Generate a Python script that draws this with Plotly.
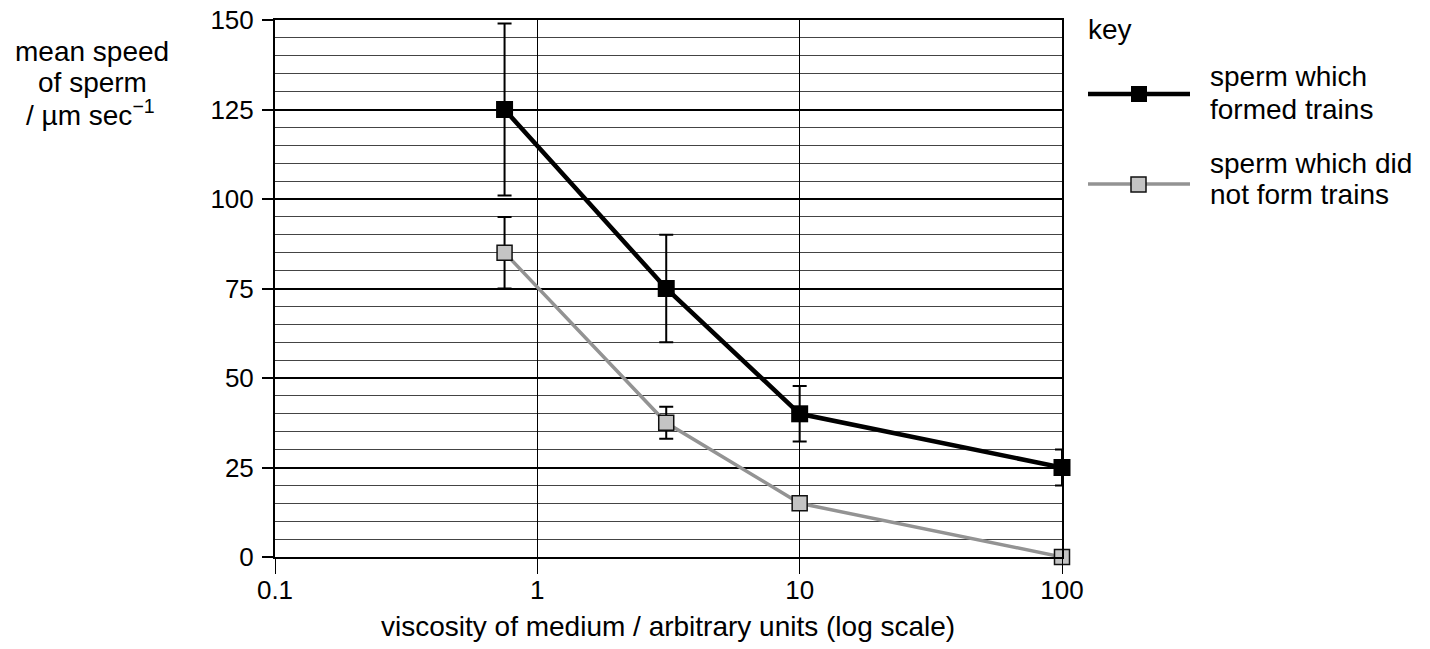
import plotly.graph_objects as go

# ---- data ----
viscosity = [0.75, 3.1, 10, 100]
speed_trains = [125, 75, 40, 25]
err_trains = [24, 15, 7.75, 5]
speed_no_trains = [85, 37.5, 15, 0]
err_no_trains = [10, 4.5, 0, 0]
y_ticks = [0, 25, 50, 75, 100, 125, 150]
x_ticks = [0.1, 1, 10, 100]
x_tick_labels = ["0.1", "1", "10", "100"]

FONT = "Liberation Sans, Arial, Helvetica, sans-serif"
W, H = 1430, 649
# target plot-area edges in screen pixels
SL, SR, ST, SB = 275, 1062, 20, 557
L, T = SL, ST
R = W - SR
B = H - SB
pw, ph = SR - SL, SB - ST


def px2paper(px, py):
    return (px - SL) / pw, 1 - (py - ST) / ph


fig = go.Figure()

fig.add_trace(go.Scatter(
    x=viscosity, y=speed_no_trains, mode="lines+markers",
    line=dict(color="#939393", width=3.5),
    marker=dict(symbol="square", size=15, color="#c4c4c4",
                line=dict(color="#111", width=1.5)),
    error_y=dict(type="data", array=err_no_trains, color="black",
                 thickness=2, width=7),
    cliponaxis=False, showlegend=False,
))
fig.add_trace(go.Scatter(
    x=viscosity, y=speed_trains, mode="lines+markers",
    line=dict(color="black", width=4.5),
    marker=dict(symbol="square", size=17, color="black"),
    error_y=dict(type="data", array=err_trains, color="black",
                 thickness=2, width=7),
    cliponaxis=False, showlegend=False,
))

fig.update_xaxes(
    type="log", range=[-1, 2], tickvals=x_ticks, ticktext=x_tick_labels,
    showgrid=True, gridcolor="black", gridwidth=1.3,
    showline=True, linecolor="black", linewidth=2, mirror=True,
    ticks="outside", ticklen=15, tickwidth=1.3, tickcolor="black",
    tickfont=dict(family=FONT, size=26, color="black"),
    ticklabelstandoff=-6,
    zeroline=False, automargin=False,
)
fig.update_yaxes(
    range=[0, 150], tickvals=y_ticks,
    showgrid=True, gridcolor="black", gridwidth=2.2,
    minor=dict(dtick=5, showgrid=True, gridcolor="#444", gridwidth=1),
    showline=True, linecolor="black", linewidth=2, mirror=True,
    ticks="outside", ticklen=11, tickwidth=2, tickcolor="black",
    tickfont=dict(family=FONT, size=26, color="black"),
    ticklabelstandoff=3,
    zeroline=False, automargin=False,
)

texts = [
    ("mean speed", 92, 51, "center"),
    ("of sperm", 92, 82, "center"),
    ("/ µm sec<sup>−1</sup>", 90, 113, "center"),
    ("viscosity of medium / arbitrary units (log scale)", 668, 626, "center"),
    ("key", 1086, 30, "left"),
    ("sperm which", 1208, 76, "left"),
    ("formed trains", 1208, 109, "left"),
    ("sperm which did", 1208, 163, "left"),
    ("not form trains", 1208, 194, "left"),
]
annotations = []
for txt, px, py, anchor in texts:
    ax, ay = px2paper(px, py)
    annotations.append(dict(
        text=txt, x=ax, y=ay, xref="paper", yref="paper",
        xanchor=anchor, yanchor="middle", showarrow=False,
        font=dict(family=FONT, size=28, color="black"),
    ))

shapes = []
# legend line 1
x0, y0 = px2paper(1088, 94)
x1, _ = px2paper(1190, 94)
shapes.append(dict(type="line", xref="paper", yref="paper", x0=x0, x1=x1,
                   y0=y0, y1=y0, line=dict(color="black", width=4.5)))
a0, b0 = px2paper(1131, 86)
a1, b1 = px2paper(1147, 102)
shapes.append(dict(type="rect", xref="paper", yref="paper", x0=a0, x1=a1,
                   y0=b1, y1=b0, fillcolor="black", line=dict(width=0)))
# legend line 2
x0, y0 = px2paper(1088, 184)
x1, _ = px2paper(1190, 184)
shapes.append(dict(type="line", xref="paper", yref="paper", x0=x0, x1=x1,
                   y0=y0, y1=y0, line=dict(color="#939393", width=3.5)))
a0, b0 = px2paper(1131, 177)
a1, b1 = px2paper(1146, 192)
shapes.append(dict(type="rect", xref="paper", yref="paper", x0=a0, x1=a1,
                   y0=b1, y1=b0, fillcolor="#c4c4c4",
                   line=dict(color="#111", width=1.5)))

fig.update_layout(
    width=W, height=H,
    margin=dict(l=L, r=R, t=T, b=B, pad=0),
    paper_bgcolor="white", plot_bgcolor="white",
    annotations=annotations, shapes=shapes,
    font=dict(family=FONT, color="black"),
)

fig.write_html(
    "out.html",
    config={"displayModeBar": False},
    post_script="document.body.style.margin='0';document.body.style.overflow='hidden';",
)
